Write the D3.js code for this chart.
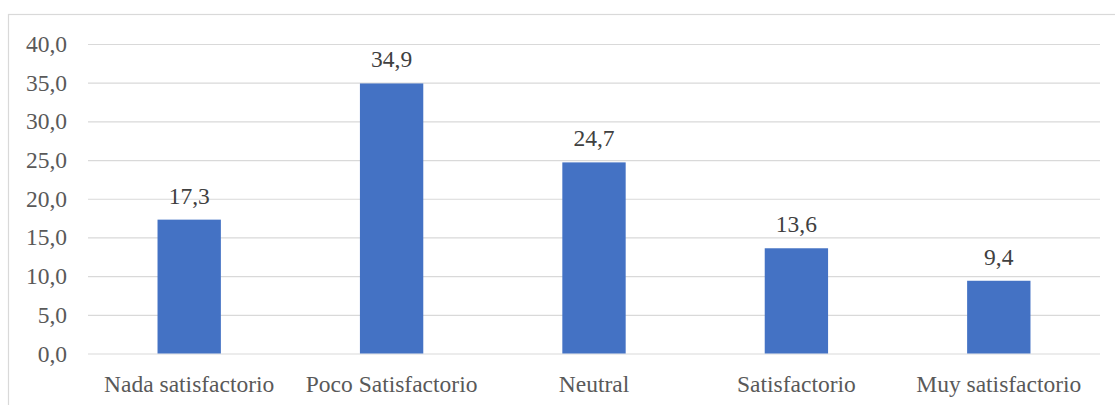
<!DOCTYPE html>
<html>
<head>
<meta charset="utf-8">
<script src="https://cdn.jsdelivr.net/npm/d3@7"></script>
<style>
  body { margin: 0; background: #fff; }
  svg { display: block; }
  svg text { font-family: "Liberation Serif", serif; }
</style>
</head>
<body>
<div id="container"></div>
<script>
const categories = ["Nada satisfactorio", "Poco Satisfactorio", "Neutral", "Satisfactorio", "Muy satisfactorio"];
const values = [17.3, 34.9, 24.7, 13.6, 9.4];
const yTicks = [0, 5, 10, 15, 20, 25, 30, 35, 40];

const w = 1115;
const h = 405;
const plotLeft = 88, plotRight = 1100, plotTop = 44, plotBottom = 353.5;
const fontFam = "Liberation Serif";
const fmt = (v) => v.toFixed(1).replace(".", ",");

const svg = d3.select("#container")
  .append("svg")
  .attr("width", w)
  .attr("height", h)
  .attr("font-family", fontFam);

// chart border
svg.append("rect")
  .attr("x", 8.5)
  .attr("y", 14.5)
  .attr("width", w)
  .attr("height", h)
  .attr("fill", "none")
  .attr("stroke", "#d9d9d9")
  .attr("stroke-width", 1.2);

const xScale = d3.scaleBand()
  .domain(categories)
  .range([plotLeft, plotRight])
  .paddingInner(0.687)
  .paddingOuter(0.687 / 2);

const yScale = d3.scaleLinear()
  .domain([0, 40])
  .range([plotBottom, plotTop]);

// gridlines + y labels
const yAxis = d3.axisLeft(yScale)
  .tickValues(yTicks)
  .tickSize(-(plotRight - plotLeft))
  .tickPadding(21)
  .tickFormat(fmt);

const gy = svg.append("g")
  .attr("transform", "translate(" + plotLeft + ",0)")
  .call(yAxis)
  .attr("font-family", fontFam)
  .attr("font-size", 23.5);
gy.select(".domain").remove();
gy.selectAll(".tick line")
  .attr("stroke", "#d9d9d9")
  .attr("stroke-width", 1.2);
gy.selectAll(".tick text")
  .attr("fill", "#595959");

// bars
svg.selectAll("rect.bar")
  .data(values)
  .enter()
  .append("rect")
  .attr("class", "bar")
  .attr("x", (d, i) => xScale(categories[i]))
  .attr("y", (d) => yScale(d))
  .attr("width", xScale.bandwidth())
  .attr("height", (d) => yScale(0) - yScale(d))
  .attr("fill", "#4472c4");

// value labels
svg.selectAll("text.val")
  .data(values)
  .enter()
  .append("text")
  .attr("class", "val")
  .attr("x", (d, i) => xScale(categories[i]) + xScale.bandwidth() / 2)
  .attr("y", (d) => yScale(d) - 16)
  .attr("text-anchor", "middle")
  .attr("fill", "#404040")
  .attr("font-family", fontFam)
  .attr("font-size", 23.5)
  .text(fmt);

// category labels
const xAxis = d3.axisBottom(xScale).tickSize(0).tickPadding(22);
const gx = svg.append("g")
  .attr("transform", "translate(0," + plotBottom + ")")
  .call(xAxis)
  .attr("font-family", fontFam)
  .attr("font-size", 23.5);
gx.select(".domain").remove();
gx.selectAll(".tick text")
  .attr("fill", "#595959");
</script>
</body>
</html>
